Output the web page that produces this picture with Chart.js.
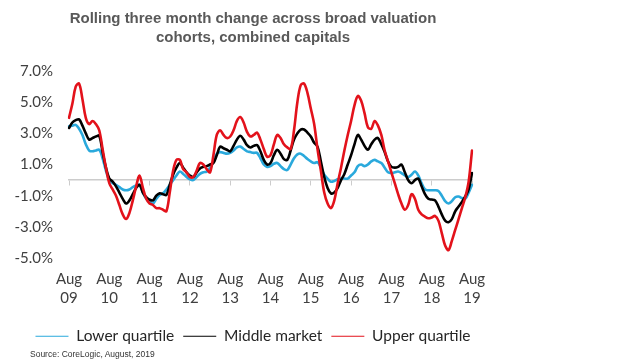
<!DOCTYPE html>
<html>
<head>
<meta charset="utf-8">
<script src="https://cdn.jsdelivr.net/npm/chart.js@4.4.1/dist/chart.umd.min.js"></script>
<style>
  html, body { margin: 0; padding: 0; background: #ffffff; }
  #wrap { position: relative; width: 512px; height: 360px; }
  #source { position: absolute; left: 30px; top: 349px; font: 8.5px 'Liberation Sans', Arial, sans-serif; color: #333; white-space: nowrap; }
</style>
</head>
<body>
<div id="wrap">
  <canvas id="c"></canvas>
  <div id="source">Source: CoreLogic, August, 2019</div>
</div>
<script>
// ---- Data (monthly, Aug 2009 – Aug 2019) ----
const titleLines = ['Rolling three month change across broad valuation', 'cohorts, combined capitals'];
const seriesNames = ['Lower quartile', 'Middle market', 'Upper quartile'];
const yearTickLabels = ['09','10','11','12','13','14','15','16','17','18','19'];
const monthNames = ['Aug','Sep','Oct','Nov','Dec','Jan','Feb','Mar','Apr','May','Jun','Jul'];

const lowerQuartile = [
  3.45,3.5,3.55,3.3,2.9,2.3,1.9,1.85,1.9,1.95,1.4,0.6,
  0.0,-0.2,-0.3,-0.45,-0.6,-0.65,-0.6,-0.45,-0.35,-0.3,-0.8,-1.2,
  -1.4,-1.5,-1.2,-0.95,-0.85,-0.6,-0.3,0.0,0.3,0.55,0.4,0.2,
  0.05,0.0,0.2,0.4,0.5,0.55,0.8,1.2,1.7,1.8,1.75,1.7,
  1.75,1.9,2.1,2.15,2.0,1.85,1.8,1.75,1.75,1.4,1.0,0.85,
  0.9,1.05,1.1,0.9,0.7,0.65,1.0,1.4,1.65,1.7,1.55,1.35,
  1.2,1.1,1.15,0.8,0.35,0.1,-0.1,-0.05,0.05,0.1,0.1,0.1,
  0.3,0.5,0.9,1.0,0.9,1.0,1.2,1.3,1.2,1.1,0.8,0.5,
  0.45,0.5,0.55,0.45,0.3,0.2,0.35,0.55,0.3,-0.2,-0.6,-0.65,
  -0.65,-0.65,-0.7,-1.0,-1.35,-1.5,-1.35,-1.1,-1.05,-1.15,-1.2,-0.8,
  -0.3
];
const middleMarket = [
  3.35,3.7,3.85,3.9,3.5,3.0,2.6,2.7,2.8,2.85,1.8,0.8,
  0.1,-0.1,-0.4,-0.8,-1.2,-1.5,-1.3,-0.9,-0.5,-0.3,-0.8,-1.1,
  -1.25,-1.3,-1.0,-0.85,-0.9,-0.95,-0.3,0.35,0.8,1.1,0.8,0.5,
  0.3,0.2,0.5,0.75,0.85,0.9,1.0,1.1,1.6,2.15,2.05,1.95,
  1.85,2.2,2.6,2.85,2.6,2.25,2.1,2.2,2.25,1.85,1.3,1.0,
  1.1,1.6,1.95,1.7,1.35,1.3,1.9,2.6,3.0,3.25,3.25,3.05,
  2.8,2.4,2.15,1.2,0.2,-0.5,-0.85,-0.8,-0.5,0.0,0.4,1.0,
  1.6,2.3,2.9,2.6,2.2,1.95,2.3,2.6,2.7,2.3,1.8,1.2,
  0.85,0.8,0.85,1.0,0.5,0.0,-0.2,0.0,0.1,-0.4,-0.9,-1.2,
  -1.25,-1.3,-1.7,-2.2,-2.6,-2.7,-2.5,-2.0,-1.7,-1.4,-1.05,-0.6,
  0.45
];
const upperQuartile = [
  4.0,4.9,6.0,6.2,5.2,4.0,3.6,3.8,3.6,3.2,2.0,0.8,
  -0.2,-0.6,-1.0,-1.6,-2.2,-2.5,-2.1,-1.3,-0.4,0.3,-0.5,-1.2,
  -1.5,-1.6,-1.8,-1.8,-1.9,-2.0,-0.8,0.6,1.3,1.3,0.7,0.5,
  0.2,0.2,0.6,1.1,1.0,0.7,0.5,1.6,2.9,3.2,2.9,2.7,
  2.8,3.2,3.8,4.05,3.7,3.1,2.8,2.9,3.05,2.6,2.0,1.5,
  1.6,2.3,2.9,2.7,2.3,2.1,2.0,3.2,5.0,6.1,6.2,5.6,
  4.6,3.6,2.0,0.6,-0.8,-1.5,-1.8,-1.3,-0.2,0.8,1.9,2.9,
  3.8,4.8,5.4,5.1,4.3,3.4,3.3,3.8,3.5,2.9,1.9,1.2,
  0.5,-0.2,-0.9,-1.5,-1.9,-1.6,-0.9,-1.2,-1.9,-2.2,-2.35,-2.45,
  -2.4,-2.3,-2.6,-3.4,-4.2,-4.5,-3.9,-3.2,-2.5,-1.8,-1.1,-0.1,
  1.9
];

// category labels: one per month
const months = lowerQuartile.map((_, i) => monthNames[i % 12] + ' ' + yearTickLabels[Math.floor((i + 7) / 12)]);

const textFont = "Lato, 'Open Sans', sans-serif";

new Chart(document.getElementById('c'), {
  type: 'line',
  data: {
    labels: months,
    datasets: [
      { label: seriesNames[0], data: lowerQuartile, borderColor: '#2aa9dc', backgroundColor: '#2aa9dc', order: 3 },
      { label: seriesNames[1], data: middleMarket, borderColor: '#000000', backgroundColor: '#000000', order: 2 },
      { label: seriesNames[2], data: upperQuartile, borderColor: '#e3121b', backgroundColor: '#e3121b', order: 1 }
    ]
  },
  options: {
    responsive: true,
    maintainAspectRatio: false,
    animation: false,
    layout: { padding: { left: 0, right: 6, top: 0, bottom: 6 } },
    elements: {
      line: { borderWidth: 2.6, tension: 0.35, borderCapStyle: 'round', borderJoinStyle: 'round' },
      point: { radius: 0 }
    },
    plugins: {
      tooltip: { enabled: false },
      title: {
        display: true,
        text: titleLines,
        color: '#595959',
        font: { family: "'Liberation Sans', Arial, sans-serif", size: 15, weight: 'bold', lineHeight: 1.27 },
        padding: { top: 9, bottom: 24 }
      },
      legend: {
        position: 'bottom',
        labels: {
          sort: (a, b) => a.datasetIndex - b.datasetIndex,
          usePointStyle: true,
          pointStyle: 'line',
          pointStyleWidth: 33,
          boxHeight: 15,
          color: '#262626',
          font: { family: textFont, size: 15.5 },
          padding: 9
        }
      }
    },
    scales: {
      x: {
        type: 'category',
        offset: false,
        grid: { display: false, drawTicks: false },
        border: { display: false },
        ticks: {
          autoSkip: false,
          maxRotation: 0,
          padding: 12,
          color: '#404040',
          font: { family: textFont, size: 15, lineHeight: 1.25 },
          callback: function (value, index) {
            return index % 12 === 0 ? ['Aug', yearTickLabels[index / 12]] : null;
          }
        }
      },
      x0: {
        type: 'category',
        axis: 'x',
        offset: false,
        position: { y: 0 },
        grid: {
          drawOnChartArea: false,
          drawTicks: true,
          tickLength: 5,
          lineWidth: 1,
          color: (ctx) => (ctx.index % 12 === 0 ? '#cccccc' : 'rgba(0,0,0,0)')
        },
        border: { display: true, color: '#cccccc', width: 1.5 },
        ticks: { display: false, autoSkip: false }
      },
      y: {
        min: -5,
        max: 7,
        grid: { display: false, drawTicks: false },
        border: { display: false },
        afterFit: (s) => { s.width = 69; },
        ticks: {
          stepSize: 2,
          padding: 16,
          color: '#404040',
          font: { family: textFont, size: 15 },
          callback: (v) => v.toFixed(1) + '%'
        }
      },
      yRight: {
        position: 'right',
        axis: 'y',
        grid: { display: false, drawTicks: false },
        border: { display: false },
        ticks: { display: false },
        afterFit: (s) => { s.width = 34; }
      }
    }
  }
});
</script>
</body>
</html>
